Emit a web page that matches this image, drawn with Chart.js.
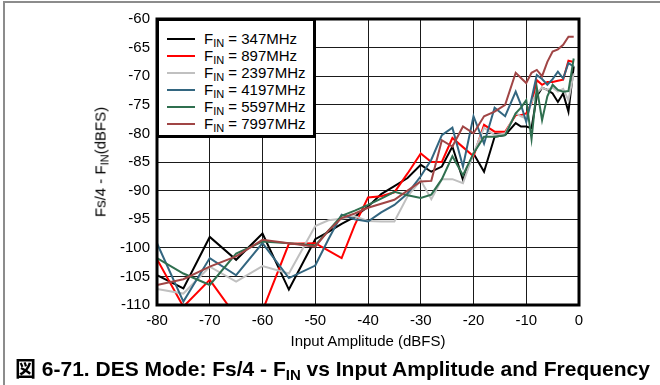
<!DOCTYPE html>
<html>
<head>
<meta charset="utf-8">
<script src="https://cdn.jsdelivr.net/npm/chart.js@4/dist/chart.umd.min.js"></script>
<style>
  html, body { margin: 0; padding: 0; background: #fff; }
  #wrap { position: relative; width: 660px; height: 385px; overflow: hidden; font-family: "Liberation Sans", Arial, sans-serif; color: #000; }
  #frame { position: absolute; left: 3px; top: 1px; width: 700px; height: 420px; border-left: 2px solid #8c8c8c; border-top: 2px solid #8c8c8c; }
  canvas { position: absolute; left: 0; top: 0; }
  #legend { position: absolute; left: 156px; top: 18px; width: 160px; height: 120px; box-sizing: border-box; border: 3px solid #000; background: #fff; }
  .row { position: absolute; left: 0; height: 18px; line-height: 18px; font-size: 15px; white-space: nowrap; }
  .row i { position: absolute; left: 8px; top: 8px; width: 28px; height: 2px; }
  .row span { position: absolute; left: 45px; top: 0; }
  sub { font-size: 11px; vertical-align: -3px; line-height: 0; }
  #ytitle { position: absolute; left: 100px; top: 162px; transform: translate(-50%, -50%) rotate(-90deg); font-size: 15px; white-space: nowrap; }
  #xtitle { position: absolute; left: 368px; top: 340px; transform: translate(-50%, -50%); font-size: 15px; white-space: nowrap; }
  #caption { position: absolute; left: 15px; top: 367px; transform: translateY(-50%); font-size: 21px; font-weight: bold; white-space: nowrap; }
  #caption sub { font-size: 15px; vertical-align: -4px; }
  .cjk { font-family: "Noto Sans CJK JP", sans-serif; }
</style>
</head>
<body>
<div id="wrap">
  <div id="frame"></div>
  <canvas id="chart" width="660" height="385"></canvas>
  <div id="legend"></div>
  <div id="ytitle">Fs/4 - F<sub>IN</sub>(dBFS)</div>
  <div id="xtitle">Input Amplitude (dBFS)</div>
  <div id="caption"><span class="cjk">図</span> 6-71. DES Mode: Fs/4 - F<sub>IN</sub> vs Input Amplitude and Frequency</div>
</div>
<script>
// input amplitude (dBFS)
var amplitude = [-80, -75, -70, -65, -60, -55, -50, -47.5, -45, -42.5, -40, -37.5, -35, -32.5,
  -30, -28, -26, -24, -22, -20, -18, -16, -14, -12, -11, -10, -9, -8, -7, -6, -5, -4, -3, -2, -1];

var freqLabels = ['347MHz', '897MHz', '2397MHz', '4197MHz', '5597MHz', '7997MHz'];

var fin347 = [-104.8, -107.1, -98.1, -102.1, -97.5, -107.3, -98.5, -97.2, -95.8, -94.6, -92.8, -90.6, -89.2, -87.8,
  -85.5, -86.7, -85.8, -82.3, -88.1, -83.5, -86.7, -80.6, -80.3, -78.2, -78.8, -78.8, -79.1, -73.5, -72, -72.4, -73, -74.5, -73, -76.2, -68.3];
var fin897 = [-102, -110.3, -105.6, -112, -111, -99.3, -99.2, -100.5, -101.8, -96, -91.2, -91, -90.3, -87,
  -83.5, -85, -85, -80.8, -82.4, -84, -78.5, -79.7, -79.7, -76.8, -76.8, -76.5, -74.7, -70.7, -71.5, -71, -71, -70.8, -70.6, -67.3, -67.5];
var fin2397 = [-107.2, -108, -103.3, -105.9, -103.2, -104.5, -96.2, -95.2, -94.9, -94.5, -95.3, -95.4, -95.4, -91,
  -88.2, -91.5, -88, -88, -88.7, -83.5, -79, -80.3, -80, -76.5, -77, -77.4, -74.5, -73, -72, -72.4, -72, -72.7, -72.2, -74.2, -69.5];
var fin4197 = [-99.2, -109.4, -101.8, -104.8, -99.2, -105.3, -103.1, -98.5, -94.2, -95, -95.4, -93.8, -92.5, -90.5,
  -87.5, -84.6, -80.3, -79, -85.8, -77, -81.8, -75.5, -77, -72.7, -75, -78, -74, -69.8, -70.5, -71.5, -70.5, -69.2, -70.4, -67.7, -68.3];
var fin5597 = [-101.8, -104.5, -106.5, -101, -98.9, -99.2, -99.6, -97, -94.4, -93.5, -92.5, -91.4, -90.2, -90.8,
  -91.3, -90.7, -88, -84, -87.3, -83.5, -80.6, -80.6, -80.3, -76.5, -75.5, -74.2, -81, -72, -77.7, -73.5, -71.5, -72.4, -72.7, -72.6, -66.9];
var fin7997 = [-106.5, -105.5, -103.3, -101.5, -98.6, -99.2, -99.8, -97, -94.8, -94, -93, -92.3, -91.6, -90,
  -88.4, -88.3, -81.2, -82.3, -78.8, -80, -77, -76.2, -75, -69.4, -70.3, -71.2, -69.4, -68.9, -70, -67.5, -65.7, -65.3, -64.5, -63.1, -63.1];

var xTicks = [-80, -70, -60, -50, -40, -30, -20, -10, 0];
var yTicks = [-110, -105, -100, -95, -90, -85, -80, -75, -70, -65, -60];

var seriesValues = [fin347, fin897, fin2397, fin4197, fin5597, fin7997];
var lineColors = ['#000000', '#ff0000', '#c0c0c0', '#336680', '#2f6f4f', '#a04545'];

function points(vals) {
  return vals.map(function (v, i) { return { x: amplitude[i], y: v }; });
}

var datasets = seriesValues.map(function (vals, i) {
  return {
    label: 'FIN = ' + freqLabels[i],
    data: points(vals),
    borderColor: lineColors[i],
    backgroundColor: lineColors[i],
    borderWidth: 2,
    pointRadius: 0,
    tension: 0,
    order: seriesValues.length - i
  };
});

// html legend with subscripts
var legend = document.getElementById('legend');
freqLabels.forEach(function (f, i) {
  var row = document.createElement('div');
  row.className = 'row';
  row.style.top = (9 + i * 17) + 'px';
  row.innerHTML = '<i style="background:' + lineColors[i] + '"></i><span>F<sub>IN</sub> = ' + f + '</span>';
  legend.appendChild(row);
});

var framePlugin = {
  id: 'frame',
  afterDraw: function (chart) {
    var a = chart.chartArea, ctx = chart.ctx;
    ctx.save();
    ctx.strokeStyle = '#000';
    ctx.lineWidth = 3;
    ctx.strokeRect(a.left, a.top, a.right - a.left, a.bottom - a.top);
    ctx.restore();
  }
};

new Chart(document.getElementById('chart'), {
  type: 'line',
  data: { datasets: datasets },
  plugins: [framePlugin],
  options: {
    responsive: false,
    animation: false,
    devicePixelRatio: 1,
    layout: { padding: { left: 0, top: 19, right: 81, bottom: 0 } },
    plugins: { legend: { display: false }, tooltip: { enabled: false } },
    scales: {
      x: {
        type: 'linear', min: -80, max: 0,
        afterBuildTicks: function (s) { s.ticks = xTicks.map(function (v) { return { value: v }; }); },
        afterFit: function (s) { s.height = 80; },
        ticks: { color: '#000', font: { family: 'Liberation Sans, Arial', size: 15 }, padding: 7, maxRotation: 0 },
        grid: { color: '#1a1a1a', lineWidth: 1, drawTicks: false },
        border: { display: false }
      },
      y: {
        type: 'linear', min: -110, max: -60,
        afterBuildTicks: function (s) { s.ticks = yTicks.map(function (v) { return { value: v }; }); },
        afterFit: function (s) { s.width = 157; },
        ticks: { color: '#000', font: { family: 'Liberation Sans, Arial', size: 15 }, padding: 7 },
        grid: { color: '#1a1a1a', lineWidth: 1, drawTicks: false },
        border: { display: false }
      }
    }
  }
});
</script>
</body>
</html>
